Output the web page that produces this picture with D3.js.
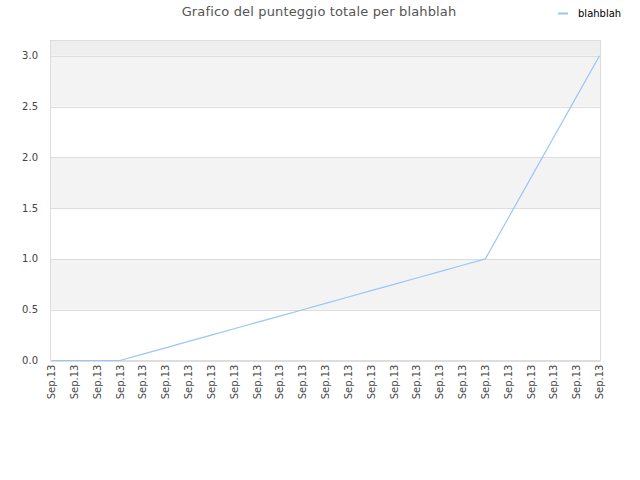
<!DOCTYPE html>
<html><head><meta charset="utf-8">
<script src="https://cdn.jsdelivr.net/npm/d3@7"></script>
<style>body{margin:0;background:#fff}svg{display:block}</style>
</head><body><svg id="c" width="640" height="480"></svg>
<script>
const title = "Grafico del punteggio totale per blahblah";
const seriesName = "blahblah";
const categories = ["Sep.13","Sep.13","Sep.13","Sep.13","Sep.13","Sep.13","Sep.13","Sep.13","Sep.13","Sep.13","Sep.13","Sep.13","Sep.13","Sep.13","Sep.13","Sep.13","Sep.13","Sep.13","Sep.13","Sep.13","Sep.13","Sep.13","Sep.13","Sep.13","Sep.13"];
const values = [0,0,0,0,0.0625,0.125,0.1875,0.25,0.3125,0.375,0.4375,0.5,0.5625,0.625,0.6875,0.75,0.8125,0.875,0.9375,1.0,1.4,1.8,2.2,2.6,3.0];
const yTicks = [0,0.5,1.0,1.5,2.0,2.5,3.0];
const yMax = 3.15;

const svg = d3.select("#c");
const m = {l:50.5, r:600.5, t:40.5, b:360.5};
const x = d3.scalePoint().domain(d3.range(categories.length)).range([m.l+1, m.r-1]);
const y = d3.scaleLinear().domain([0, yMax]).range([m.b, m.t]);

// bands
svg.append("rect").attr("x", m.l).attr("y", y(yMax)).attr("width", m.r-m.l).attr("height", y(3.0)-y(yMax)).attr("fill","#eeeeee");
[[0.5,1.0],[1.5,2.0],[2.5,3.0]].forEach(b=>{
  svg.append("rect").attr("x", m.l).attr("y", y(b[1])).attr("width", m.r-m.l).attr("height", y(b[0])-y(b[1])).attr("fill","#f3f3f3");
});
// grid
svg.append("g").selectAll("line").data(yTicks).join("line")
  .attr("x1", m.l).attr("x2", m.r).attr("y1", d=>Math.round(y(d))+0.5).attr("y2", d=>Math.round(y(d))+0.5)
  .attr("stroke","#dddddd");
// border
svg.append("rect").attr("x", m.l).attr("y", m.t).attr("width", m.r-m.l).attr("height", m.b-m.t)
  .attr("fill","none").attr("stroke","#dddddd");

// y labels
svg.append("g").selectAll("text").data(yTicks).join("text")
  .attr("x", 38).attr("y", d=>y(d)+3.5).attr("text-anchor","end")
  .attr("font-family","DejaVu Sans").attr("font-size","10px").attr("fill","#444")
  .text(d=>d.toFixed(1));
// x labels
svg.append("g").selectAll("text").data(categories).join("text")
  .attr("transform",(d,i)=>`translate(${x(i)+3.5},${m.b+4}) rotate(-90)`)
  .attr("text-anchor","end")
  .attr("font-family","DejaVu Sans").attr("font-size","10px").attr("fill","#444")
  .text(d=>d);

// line
svg.append("path").datum(values)
  .attr("d", d3.line().x((d,i)=>x(i)).y(d=>y(d)))
  .attr("fill","none").attr("stroke","#99c7f5").attr("stroke-width",1.2);

// title
svg.append("text").attr("x",319).attr("y",16).attr("text-anchor","middle")
  .attr("font-family","DejaVu Sans").attr("font-size","13px").attr("letter-spacing","0.15px").attr("fill","#555").text(title);
// legend
svg.append("line").attr("x1",558).attr("x2",568).attr("y1",13.5).attr("y2",13.5).attr("stroke","#99c7f5").attr("stroke-width",2);
svg.append("text").attr("x",578).attr("y",17).attr("font-family","DejaVu Sans").attr("font-size","10px").attr("fill","#000").text(seriesName);
</script></body></html>
